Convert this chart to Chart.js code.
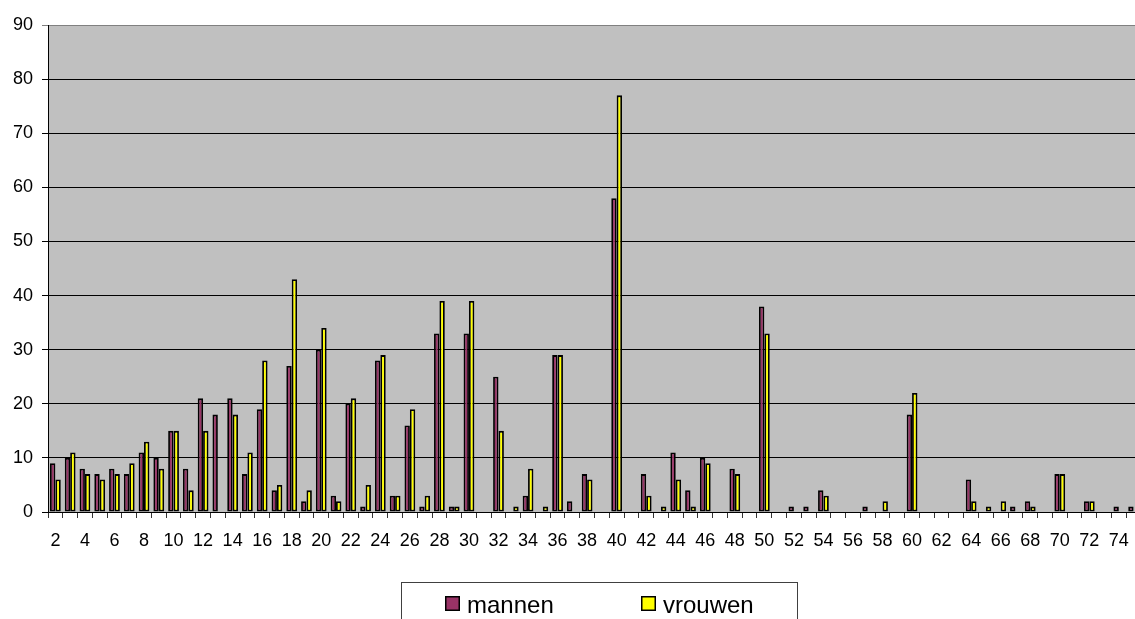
<!DOCTYPE html>
<html>
<head>
<meta charset="utf-8">
<script src="https://cdn.jsdelivr.net/npm/chart.js@4/dist/chart.umd.min.js"></script>
<style>
  html, body { margin: 0; padding: 0; background: #fff; overflow: hidden; }
  #wrap { position: relative; width: 1141px; height: 619px; }
</style>
</head>
<body>
<div id="wrap"><canvas id="c" width="1141" height="619"></canvas></div>
<script>
// Leeftijden (categorieën) en aantallen per geslacht
const leeftijden = [2, 3, 4, 5, 6, 7, 8, 9, 10, 11, 12, 13, 14, 15, 16, 17, 18, 19, 20, 21,
  22, 23, 24, 25, 26, 27, 28, 29, 30, 31, 32, 33, 34, 35, 36, 37, 38, 39, 40, 41,
  42, 43, 44, 45, 46, 47, 48, 49, 50, 51, 52, 53, 54, 55, 56, 57, 58, 59, 60, 61,
  62, 63, 64, 65, 66, 67, 68, 69, 70, 71, 72, 73, 74, 75];

const mannen = [9, 10, 8, 7, 8, 7, 11, 10, 15, 8, 21, 18, 21, 7, 19, 4, 27, 2, 30, 3,
  20, 1, 28, 3, 16, 1, 33, 1, 33, 0, 25, 0, 3, 0, 29, 2, 7, 0, 58, 0,
  7, 0, 11, 4, 10, 0, 8, 0, 38, 0, 1, 1, 4, 0, 0, 1, 0, 0, 18, 0,
  0, 0, 6, 0, 0, 1, 2, 0, 7, 0, 2, 0, 1, 1];

const vrouwen = [6, 11, 7, 6, 7, 9, 13, 8, 15, 4, 15, 0, 18, 11, 28, 5, 43, 4, 34, 2,
  21, 5, 29, 3, 19, 3, 39, 1, 39, 0, 15, 1, 8, 1, 29, 0, 6, 0, 77, 0,
  3, 1, 6, 1, 9, 0, 7, 0, 33, 0, 0, 0, 3, 0, 0, 0, 2, 0, 22, 0,
  0, 0, 2, 1, 2, 0, 1, 0, 7, 0, 2, 0, 0, 0];

const yTicks = [0, 10, 20, 30, 40, 50, 60, 70, 80, 90];

const KLEUR_MANNEN = '#993366';
const KLEUR_VROUWEN = '#FFFF00';
const FONT = '"Liberation Sans", Arial, Helvetica, sans-serif';

Chart.defaults.font.family = FONT;
Chart.defaults.color = '#000';

// Grijze achtergrond van het tekengebied
const plotAchtergrond = {
  id: 'plotAchtergrond',
  beforeDraw(chart) {
    const { ctx, chartArea: a } = chart;
    ctx.save();
    ctx.fillStyle = '#C0C0C0';
    ctx.fillRect(a.left, a.top, a.right - a.left, a.bottom - a.top);
    ctx.restore();
  }
};

// Legenda in een kader onder de grafiek
const kaderLegenda = {
  id: 'kaderLegenda',
  afterDraw(chart) {
    const ctx = chart.ctx;
    ctx.save();
    ctx.strokeStyle = '#404040';
    ctx.lineWidth = 1;
    ctx.strokeRect(401.5, 582.5, 396, 60);
    const items = [{ x: 445 }, { x: 641 }];
    chart.data.datasets.forEach((ds, i) => {
      const x = items[i].x;
      ctx.fillStyle = ds.backgroundColor;
      ctx.fillRect(x, 596, 15, 15);
      ctx.strokeStyle = '#000';
      ctx.lineWidth = 1.5;
      ctx.strokeRect(x + 0.75, 596.75, 13.5, 13.5);
      ctx.fillStyle = '#000';
      ctx.font = '24px ' + FONT;
      ctx.textBaseline = 'alphabetic';
      ctx.textAlign = 'left';
      ctx.fillText(ds.label, x + 22, 613);
    });
    ctx.restore();
  }
};

new Chart(document.getElementById('c'), {
  type: 'bar',
  data: {
    labels: leeftijden,
    datasets: [
      {
        label: 'mannen',
        data: mannen,
        backgroundColor: KLEUR_MANNEN,
        borderColor: '#000',
        borderWidth: 1.8,
        borderSkipped: false,
        categoryPercentage: 0.73,
        barPercentage: 1.0
      },
      {
        label: 'vrouwen',
        data: vrouwen,
        backgroundColor: KLEUR_VROUWEN,
        borderColor: '#000',
        borderWidth: 1.8,
        borderSkipped: false,
        categoryPercentage: 0.73,
        barPercentage: 1.0
      }
    ]
  },
  options: {
    responsive: false,
    animation: false,
    devicePixelRatio: 1,
    layout: { padding: { top: 25, left: 0, right: 0, bottom: 0 } },
    plugins: {
      legend: { display: false },
      tooltip: { enabled: false }
    },
    scales: {
      x: {
        offset: true,
        grid: {
          offset: true,
          drawOnChartArea: false,
          drawTicks: true,
          tickLength: 6,
          color: '#333'
        },
        border: { display: true, color: '#000', width: 1 },
        ticks: {
          autoSkip: false,
          maxRotation: 0,
          minRotation: 0,
          padding: 12,
          font: { size: 18 },
          callback: (v, i) => (leeftijden[i] % 2 === 0 ? String(leeftijden[i]) : '')
        },
        afterFit(scale) {
          scale.height = 107;
          scale.paddingLeft = 0;
          scale.paddingRight = 0;
        }
      },
      y: {
        min: yTicks[0],
        max: yTicks[yTicks.length - 1],
        afterBuildTicks(scale) { scale.ticks = yTicks.map(v => ({ value: v })); },
        grid: {
          color: ctx => (ctx.tick && ctx.tick.value === 90 ? '#808080' : '#000'),
          lineWidth: 1,
          drawTicks: true,
          tickLength: 6
        },
        border: { display: true, color: '#000', width: 1 },
        ticks: {
          padding: 9,
          font: { size: 18 }
        },
        afterFit(scale) { scale.width = 48; }
      }
    }
  },
  plugins: [plotAchtergrond, kaderLegenda]
});
</script>
</body>
</html>
